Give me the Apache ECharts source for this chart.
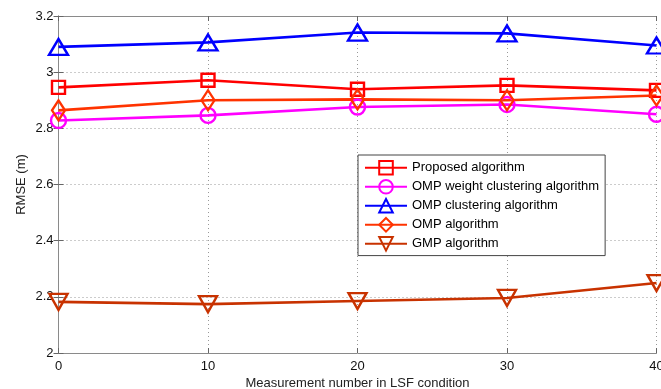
<!DOCTYPE html>
<html>
<head>
<meta charset="utf-8">
<script src="https://cdn.jsdelivr.net/npm/echarts@6/dist/echarts.min.js"></script>
<style>
  html, body { margin: 0; padding: 0; background: #fff; }
  #chart { width: 661px; height: 389px; }
</style>
</head>
<body>
<div id="chart"></div>
<script>
// Measurement numbers (x) and RMSE per algorithm (y)
const measurements = [0, 10, 20, 30, 40];
const proposed = [2.946, 2.971, 2.939, 2.953, 2.935];
const ompWeightClustering = [2.828, 2.846, 2.876, 2.885, 2.850];
const ompClustering = [3.090, 3.106, 3.141, 3.138, 3.095];
const omp = [2.864, 2.900, 2.903, 2.900, 2.917];
const gmp = [2.182, 2.174, 2.185, 2.196, 2.249];

const seriesNames = [
  'Proposed algorithm',
  'OMP weight clustering algorithm',
  'OMP clustering algorithm',
  'OMP algorithm',
  'GMP algorithm'
];

const FONT = '"Liberation Sans", Arial, sans-serif';
const downTriangle = 'path://M0,0 L20,0 L10,18 Z';

function pairs(vals) {
  return measurements.map((x, i) => [x, vals[i]]);
}

function lineSeries(name, vals, color, symbol, size) {
  return {
    name: name,
    type: 'line',
    data: pairs(vals),
    symbol: symbol,
    symbolSize: size,
    showSymbol: true,
    lineStyle: { color: color, width: 2.6 },
    itemStyle: { color: 'rgba(255,255,255,0)', borderColor: color, borderWidth: 2.4 },
    emphasis: { disabled: true },
    z: 3
  };
}

const chart = echarts.init(document.getElementById('chart'), null, { renderer: 'canvas' });

const gridLine = { show: true, lineStyle: { color: '#999', type: [1, 3], width: 1 } };
const axisLine = { show: true, lineStyle: { color: '#8a8a8a', width: 1 } };

chart.setOption({
  animation: false,
  backgroundColor: '#fff',
  grid: { left: 58.5, right: 4.5, top: 16, bottom: 36, containLabel: false, outerBoundsMode: 'none' },
  legend: {
    orient: 'vertical',
    left: 358,
    top: 155,
    itemWidth: 42,
    itemHeight: 17,
    itemGap: 3.4,
    padding: [5, 6, 4, 6],
    backgroundColor: '#fff',
    borderColor: '#444',
    borderWidth: 1,
    borderRadius: 0,
    textStyle: { fontFamily: FONT, fontSize: 13, color: '#000' },
    data: seriesNames
  },
  xAxis: [{
    type: 'value',
    min: 0, max: 40, interval: 10,
    name: 'Measurement number in LSF condition',
    nameLocation: 'middle',
    nameGap: 23.5,
    nameMoveOverlap: false,
    nameTextStyle: { fontFamily: FONT, fontSize: 13, color: '#222' },
    axisLine: axisLine,
    axisTick: { show: true, inside: true, length: 5, lineStyle: { color: '#666' } },
    axisLabel: { fontFamily: FONT, fontSize: 13, color: '#111', margin: 7 },
    splitLine: gridLine
  }, {
    type: 'value',
    position: 'top',
    min: 0, max: 40, interval: 10,
    axisLine: axisLine,
    axisTick: { show: true, inside: true, length: 5, lineStyle: { color: '#666' } },
    axisLabel: { show: false },
    splitLine: { show: false }
  }],
  yAxis: [{
    type: 'value',
    min: 2, max: 3.2, interval: 0.2,
    name: 'RMSE (m)',
    nameLocation: 'middle',
    nameGap: 31,
    nameMoveOverlap: false,
    nameTextStyle: { fontFamily: FONT, fontSize: 13, color: '#222' },
    axisLine: axisLine,
    axisTick: { show: true, inside: true, length: 5, lineStyle: { color: '#666' } },
    axisLabel: { fontFamily: FONT, fontSize: 13, color: '#111', margin: 5 },
    splitLine: gridLine
  }, {
    type: 'value',
    position: 'right',
    min: 2, max: 3.2, interval: 0.2,
    axisLine: axisLine,
    axisTick: { show: true, inside: true, length: 5, lineStyle: { color: '#666' } },
    axisLabel: { show: false },
    splitLine: { show: false }
  }],
  series: [
    lineSeries(seriesNames[0], proposed, '#ff0000', 'rect', 13),
    lineSeries(seriesNames[1], ompWeightClustering, '#ff00ff', 'circle', 15),
    lineSeries(seriesNames[2], ompClustering, '#0000ff', 'triangle', [19, 16]),
    lineSeries(seriesNames[3], omp, '#ff3300', 'diamond', [13, 20]),
    lineSeries(seriesNames[4], gmp, '#c83200', downTriangle, [18, 16])
  ]
});
</script>
</body>
</html>
